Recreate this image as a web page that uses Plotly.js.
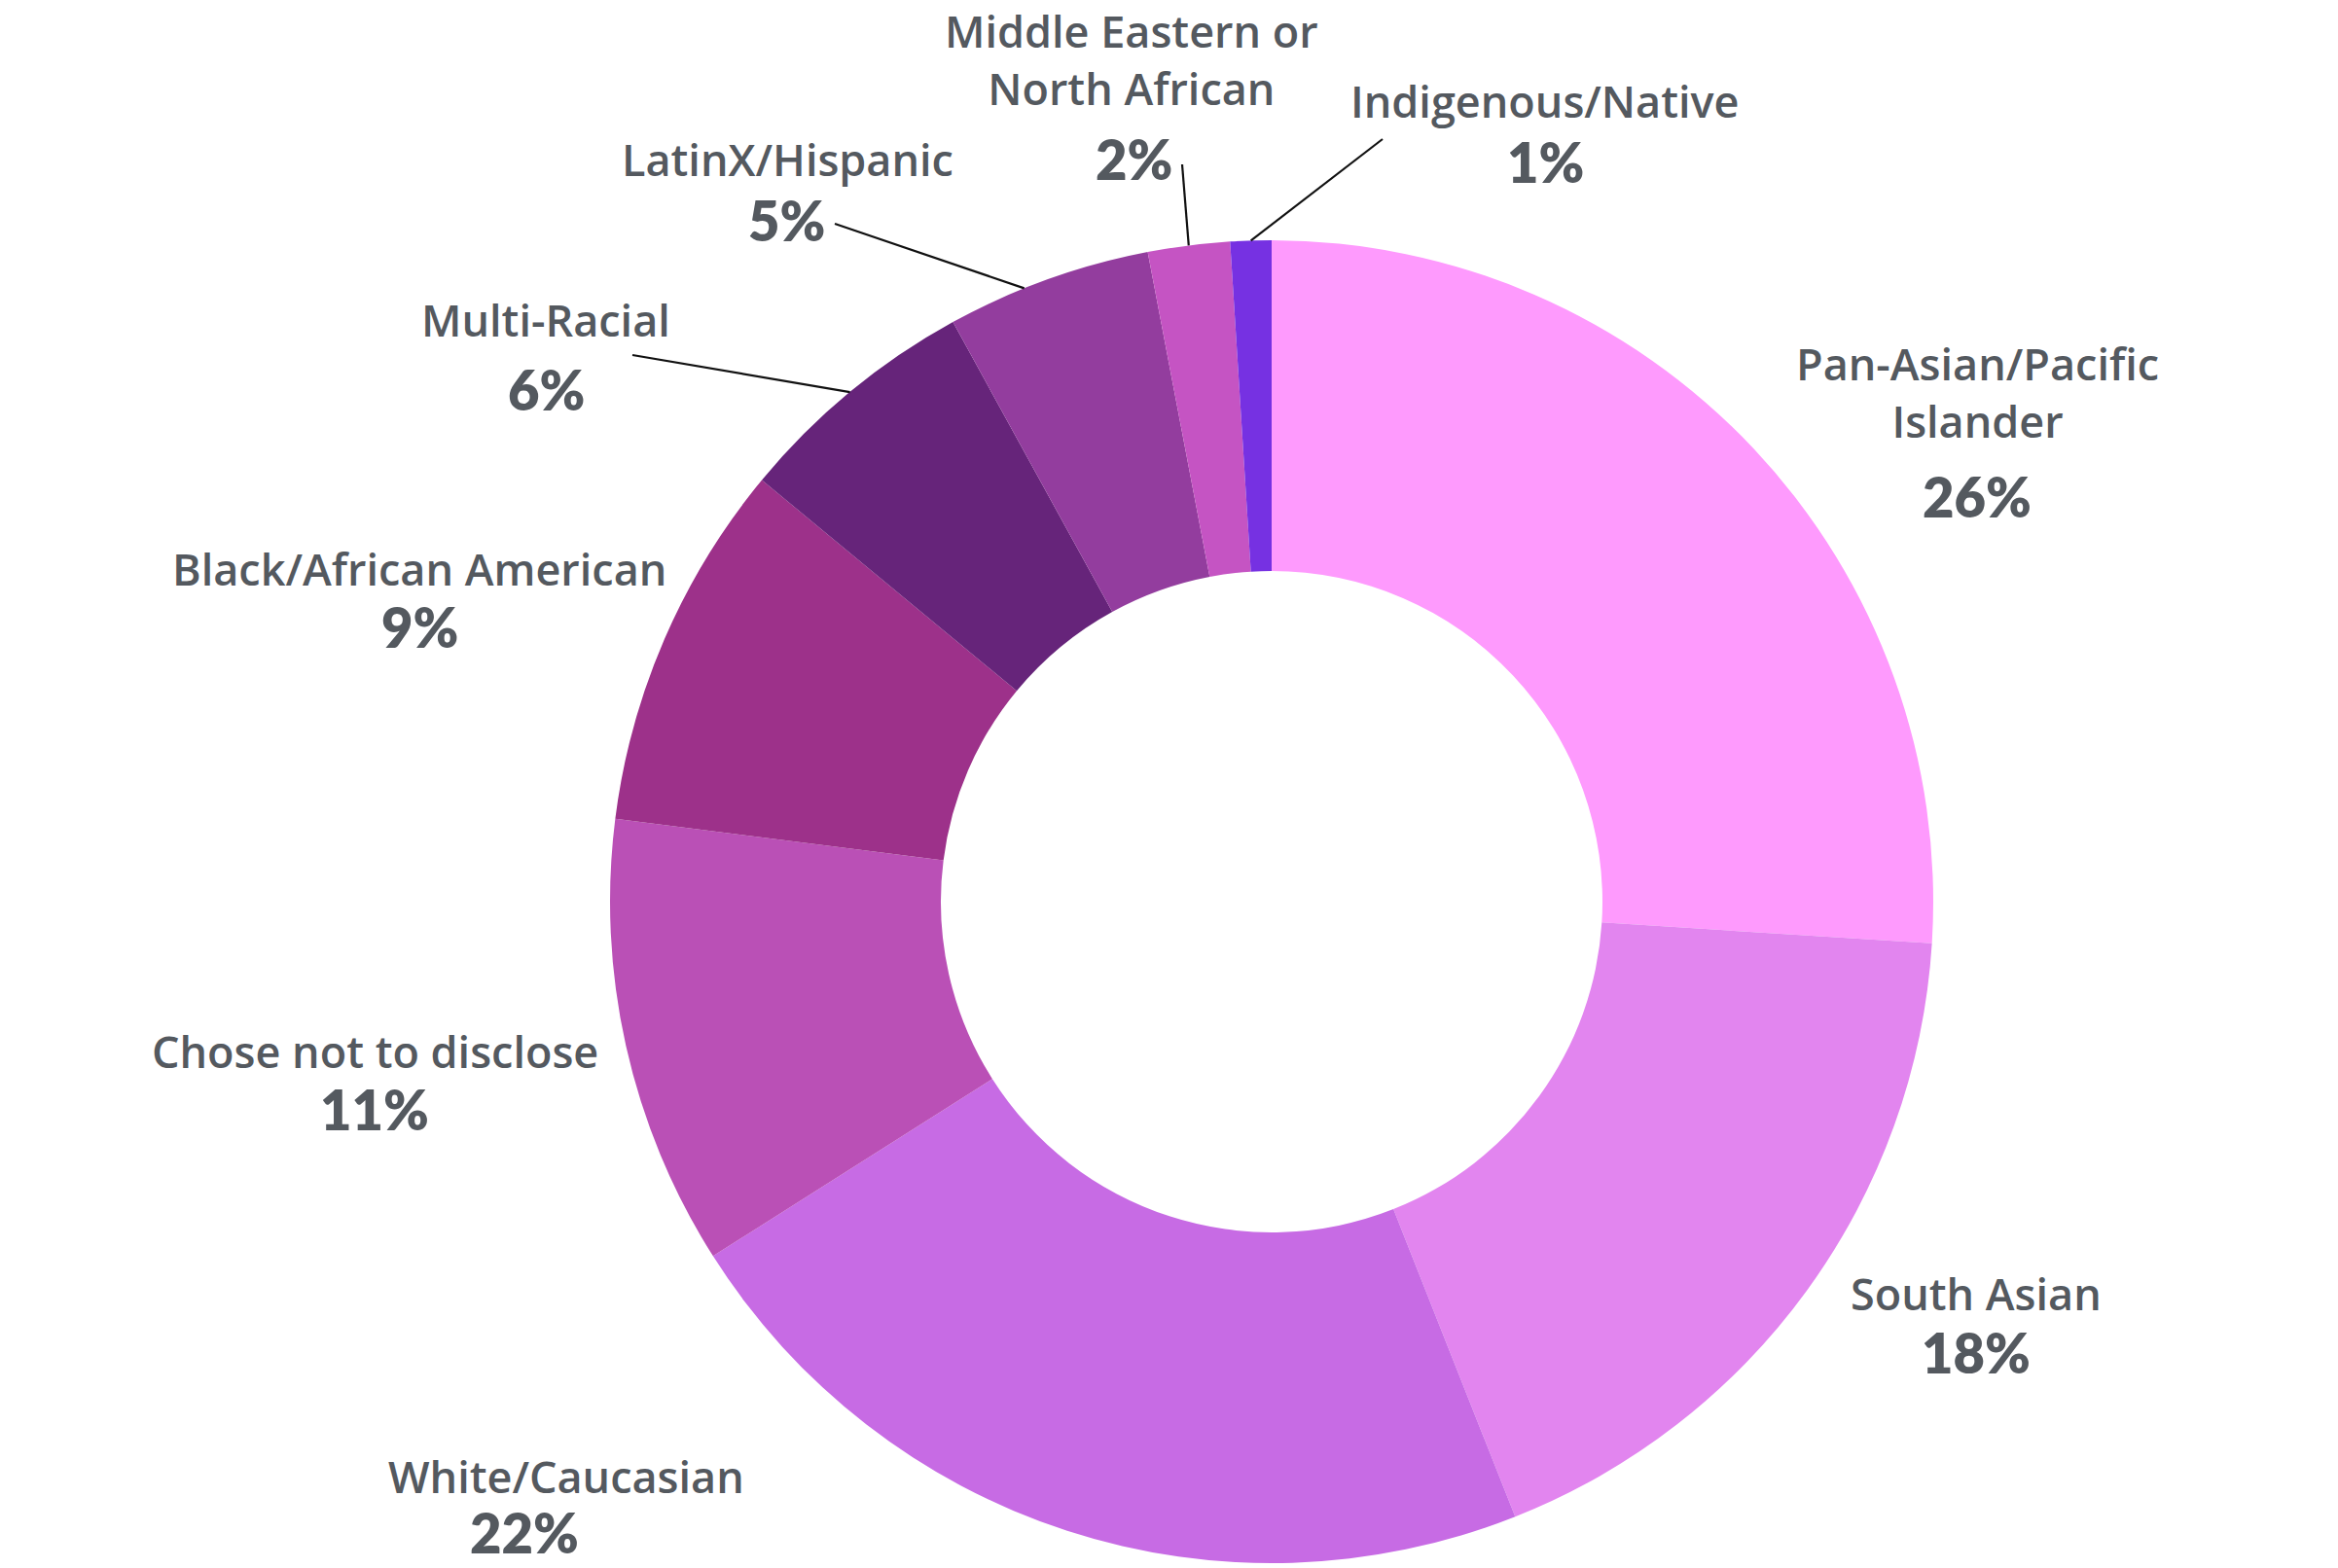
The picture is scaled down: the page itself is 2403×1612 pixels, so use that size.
<!DOCTYPE html>
<html>
<head>
<meta charset="utf-8">
<script src="https://cdn.plot.ly/plotly-3.0.1.min.js"></script>
<style>html,body{margin:0;padding:0;background:#fff;}#chart{width:2403px;height:1612px;}</style>
</head>
<body>
<div id="chart"></div>
<script>
// ---- data ----
const categories = ['Pan-Asian/Pacific Islander','South Asian','White/Caucasian','Chose not to disclose','Black/African American','Multi-Racial','LatinX/Hispanic','Middle Eastern or North African','Indigenous/Native'];
const displayNames = ['Pan-Asian/Pacific<br>Islander','South Asian','White/Caucasian','Chose not to disclose','Black/African American','Multi-Racial','LatinX/Hispanic','Middle Eastern or<br>North African','Indigenous/Native'];
const values = [26,18,22,11,9,6,5,2,1];
const colors = ['#FE9AFD','#E285EF','#C76BE4','#BA50B6','#9D318A','#66247A','#933D9E','#C554C3','#7631E2'];

// ---- layout/style (pixel positions of label blocks) ----
const W = 2403, H = 1612;
const CX = 1307, CY = 927, R = 680;
const namePos = [[2032,403],[2031,1329],[582,1517],[385,1080],[431,584],[561,329],[809,163],[1163,61],[1588,103]];
const pctPos  = [[2032,510],[2031,1390],[539,1575],[385,1140],[431,645],[561,400],[808,227],[1165,164],[1588,166]];
const leaderEnd = [null,null,null,null,null,[650,365],[858,230],[1215,169],[1421,143]];
const leaderStartShift = [0,0,0,0,0,0,-0.006,0,0];
const textColor = '#54595F';
const NAME_FONT = '"Open Sans", Lato, sans-serif';
const PCT_FONT = 'Lato, "Open Sans", sans-serif';

const trace = {
  type: 'pie',
  values: values,
  labels: categories,
  sort: false,
  direction: 'clockwise',
  rotation: 0,
  hole: 0.5,
  textinfo: 'none',
  hoverinfo: 'label+percent',
  marker: {colors: colors, line: {width: 0}},
  domain: {x: [(CX - R) / W, (CX + R) / W], y: [(H - CY - R) / H, (H - CY + R) / H]},
  showlegend: false
};

const total = values.reduce((a, b) => a + b, 0);
const annotations = [];
const shapes = [];
let cum = 0;
values.forEach((v, i) => {
  const mid = (cum + v / 2) / total + leaderStartShift[i];
  cum += v;
  annotations.push({
    xref: 'paper', yref: 'paper', x: namePos[i][0] / W, y: 1 - namePos[i][1] / H,
    xanchor: 'center', yanchor: 'middle', showarrow: false, align: 'center', borderpad: 0,
    text: displayNames[i], font: {family: NAME_FONT, size: 45, color: textColor, weight: 600}
  });
  annotations.push({
    xref: 'paper', yref: 'paper', x: pctPos[i][0] / W, y: 1 - pctPos[i][1] / H,
    xanchor: 'center', yanchor: 'middle', showarrow: false, borderpad: 0,
    text: Math.round(v / total * 100) + '%', font: {family: PCT_FONT, size: 56, color: textColor, weight: 800}
  });
  if (leaderEnd[i]) {
    const ang = mid * 2 * Math.PI;
    const sx = CX + R * Math.sin(ang), sy = CY - R * Math.cos(ang);
    shapes.push({
      type: 'line', xref: 'paper', yref: 'paper',
      x0: sx / W, y0: 1 - sy / H, x1: leaderEnd[i][0] / W, y1: 1 - leaderEnd[i][1] / H,
      line: {color: '#111111', width: 2.2}
    });
  }
});

const layout = {
  width: W, height: H,
  margin: {l: 0, r: 0, t: 0, b: 0},
  paper_bgcolor: '#ffffff',
  showlegend: false,
  annotations: annotations,
  shapes: shapes
};

Plotly.newPlot('chart', [trace], layout, {displayModeBar: false, staticPlot: true});
</script>
</body>
</html>
